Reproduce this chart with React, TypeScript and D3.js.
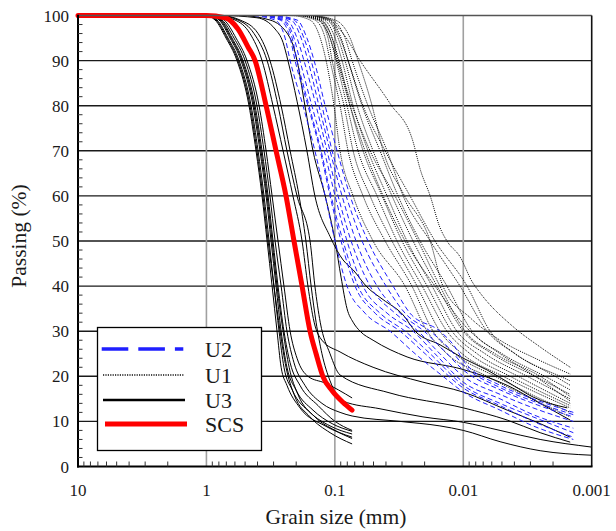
import React from "react";
import * as d3 from "d3";

type Pt = [number, number];

// Grain size axis (mm), reversed log scale
const xTicks = [10, 1, 0.1, 0.01, 0.001];
const xTickLabels = ["10", "1", "0.1", "0.01", "0.001"];
const yTicks = [0, 10, 20, 30, 40, 50, 60, 70, 80, 90, 100];
const legendLabels = ["U2", "U1", "U3", "SCS"];

// SCS (red thick)
const SCS: Pt[] = [[10,100],[1.0,100],[0.716,99.5],[0.568,97],[0.474,93],[0.418,90],[0.343,80],[0.287,70],[0.240,60],[0.208,50],[0.180,40],[0.156,30],[0.140,25],[0.124,20],[0.105,16.8],[0.087,14.3],[0.0735,12.5]];

// U3 (black solid)
const U3a: Pt[] = [[10,100],[1.025,100],[0.857,99],[0.704,95],[0.578,90],[0.466,80],[0.411,70],[0.369,60],[0.337,50],[0.308,40],[0.282,30],[0.262,22],[0.236,18],[0.187,13],[0.119,9],[0.0734,6.5]];
const U3b: Pt[] = [[10,100],[0.989,100],[0.827,99],[0.679,95],[0.557,90],[0.449,80],[0.396,70],[0.356,60],[0.325,50],[0.298,40],[0.272,30],[0.249,22],[0.215,17],[0.156,12],[0.109,9],[0.0734,7.2]];
const U3c: Pt[] = [[10,100],[0.971,100],[0.798,99],[0.655,95],[0.538,90],[0.434,80],[0.383,70],[0.343,60],[0.314,50],[0.287,40],[0.262,30],[0.236,22],[0.201,17],[0.148,12.5],[0.105,9.5],[0.0734,7.8]];
const U3d: Pt[] = [[10,100],[0.938,100],[0.770,99],[0.632,95],[0.519,90],[0.418,80],[0.369,70],[0.331,60],[0.303,50],[0.277,40],[0.249,30],[0.223,23],[0.187,18],[0.135,13.5],[0.0996,10],[0.0734,8]];
const U3e: Pt[] = [[10,100],[0.938,100],[0.756,99],[0.610,95],[0.500,90],[0.404,80],[0.356,70],[0.320,60],[0.292,50],[0.262,40],[0.236,30],[0.208,23],[0.171,18],[0.126,14],[0.0911,12],[0.0734,11.2],[0.0311,10],[0.0152,9],[0.01,8],[0.00517,5.5],[0.00252,3.5],[0.001,2.5]];
const U3f: Pt[] = [[10,100],[0.905,100],[0.729,99],[0.588,95],[0.483,90],[0.389,80],[0.343,70],[0.308,60],[0.277,50],[0.249,40],[0.223,30],[0.197,24],[0.162,20],[0.119,18.5],[0.0734,15.2]];
const U3g: Pt[] = [[10,100],[1.007,100],[0.842,99],[0.691,95],[0.568,90],[0.458,80],[0.404,70],[0.363,60],[0.331,50],[0.298,40],[0.267,30],[0.240,22],[0.208,16],[0.156,11],[0.109,7.5],[0.0734,5]];
const U3h: Pt[] = [[10,100],[0.955,100],[0.784,99],[0.643,95],[0.528,90],[0.426,80],[0.376,70],[0.337,60],[0.308,50],[0.282,40],[0.253,30],[0.227,22],[0.194,16],[0.143,11],[0.0996,8],[0.0734,6.2]];
const U3i: Pt[] = [[10,100],[0.857,100],[0.599,99],[0.458,96],[0.369,90],[0.303,80],[0.253,70],[0.212,60],[0.180,50],[0.162,40],[0.145,32],[0.126,28],[0.0911,25.4],[0.0504,22],[0.0206,18.7],[0.01,16.5],[0.00455,12.5],[0.00252,9.5],[0.00147,6.5]];
const U3j: Pt[] = [[10,100],[0.812,100],[0.568,99],[0.426,96],[0.337,90],[0.277,80],[0.236,70],[0.197,60],[0.156,50],[0.143,40],[0.130,32],[0.109,25],[0.0911,20.3],[0.0372,16.3],[0.01,13],[0.00455,10.3],[0.00252,7.5],[0.00147,5.4]];
const U3k: Pt[] = [[10,100],[0.784,100],[0.547,99],[0.396,96],[0.320,90],[0.262,80],[0.223,70],[0.190,60],[0.168,50],[0.153,40],[0.140,32],[0.126,25],[0.109,19],[0.0863,14.5],[0.0445,12.8],[0.0206,11],[0.01,9.8],[0.00517,8],[0.00252,6],[0.001,4.3]];
const U3l: Pt[] = [[10,100],[0.547,100],[0.320,99],[0.223,95],[0.197,90],[0.171,80],[0.148,70],[0.119,60],[0.0996,50],[0.0895,42],[0.0804,35],[0.0721,32],[0.0636,30],[0.0504,28],[0.0274,24.3],[0.01,21.5],[0.00455,18],[0.00252,14],[0.00147,10.3]];
const U3m: Pt[] = [[10,100],[0.784,100],[0.404,99.5],[0.292,97],[0.253,94],[0.232,90],[0.197,81],[0.165,70],[0.143,60],[0.109,51],[0.0863,45.8],[0.0721,43.6],[0.0562,39.8],[0.0421,37],[0.0294,33.6],[0.0237,30],[0.0152,27],[0.01,24],[0.00652,21.4],[0.00409,18],[0.00286,15.4],[0.00155,13]];
const U3: Pt[][] = [U3a, U3b, U3c, U3d, U3e, U3f, U3g, U3h, U3i, U3j, U3k, U3l, U3m];

// U2 (blue dashed)
const B1: Pt[] = [[10,100],[0.458,100],[0.292,99],[0.244,95],[0.223,90],[0.177,80],[0.143,70],[0.119,60],[0.0996,50],[0.0804,40],[0.0582,34],[0.0372,30],[0.0237,25],[0.0144,20],[0.01,16.5],[0.00517,12.5],[0.00286,9],[0.00139,6]];
const B2: Pt[] = [[10,100],[0.418,100],[0.267,99],[0.223,95],[0.204,90],[0.162,80],[0.130,70],[0.109,60],[0.0895,50],[0.0696,40],[0.0486,34],[0.0311,30],[0.0198,25],[0.01,17.4],[0.00517,13.5],[0.00286,10],[0.00139,6.5]];
const B3: Pt[] = [[10,100],[0.396,100],[0.258,99],[0.215,95],[0.197,90],[0.159,80],[0.128,70],[0.107,60],[0.0863,50],[0.066,40],[0.0445,34],[0.0284,30],[0.0181,25],[0.01,18],[0.00517,14],[0.00286,11],[0.00139,7.5]];
const B4: Pt[] = [[10,100],[0.383,100],[0.249,99],[0.208,95],[0.187,90],[0.151,80],[0.121,70],[0.0996,60],[0.0804,50],[0.0603,40],[0.0392,34],[0.0246,30],[0.0166,25],[0.01,18.7],[0.00517,15],[0.00286,11.5],[0.00139,8.5]];
const B5: Pt[] = [[10,100],[0.363,100],[0.236,99],[0.197,95],[0.174,90],[0.140,80],[0.115,70],[0.0944,60],[0.0747,50],[0.0532,40],[0.034,34],[0.0225,30],[0.0152,25],[0.01,20],[0.00517,16],[0.00286,13],[0.00139,10]];
const B6: Pt[] = [[10,100],[0.343,100],[0.219,99],[0.183,95],[0.162,90],[0.133,80],[0.109,70],[0.0879,60],[0.0684,50],[0.0469,40],[0.0311,34],[0.0202,30],[0.0139,25.5],[0.01,21.4],[0.00517,17],[0.00286,14],[0.00139,11]];
const B7: Pt[] = [[10,100],[0.326,100],[0.208,99],[0.174,95],[0.153,90],[0.126,80],[0.105,70],[0.0818,60],[0.0614,50],[0.0399,40],[0.0284,34],[0.0181,30],[0.0127,26],[0.01,22.5],[0.00517,17.5],[0.00286,14.5],[0.00139,11.5]];
const B8: Pt[] = [[10,100],[0.308,100],[0.197,99],[0.165,95],[0.145,90],[0.119,80],[0.0961,70],[0.0761,60],[0.0552,50],[0.0352,40],[0.026,34],[0.0152,30],[0.0116,26.5],[0.01,23.5],[0.00517,18],[0.00286,15],[0.00139,12]];
const U2: Pt[][] = [B1, B2, B3, B4, B5, B6, B7, B8];

// U1 (black dotted)
const D1: Pt[] = [[10,100],[0.223,100],[0.156,99],[0.130,95],[0.117,90],[0.1015,80],[0.0911,70],[0.0721,60],[0.0504,50],[0.0284,40],[0.0191,30],[0.0134,25],[0.00652,20],[0.00147,11]];
const D2: Pt[] = [[10,100],[0.204,100],[0.143,99],[0.119,95],[0.109,90],[0.0911,80],[0.0789,70],[0.0603,60],[0.0406,50],[0.0251,40],[0.0172,30],[0.0116,25],[0.00565,20],[0.00147,12]];
const D3: Pt[] = [[10,100],[0.194,100],[0.135,99],[0.113,95],[0.105,90],[0.0848,80],[0.0721,70],[0.0532,60],[0.0359,50],[0.0229,40],[0.0152,30],[0.0102,25],[0.0049,20],[0.00147,13]];
const D4: Pt[] = [[10,100],[0.187,100],[0.130,99],[0.109,95],[0.0978,90],[0.0804,80],[0.066,70],[0.0469,60],[0.0328,50],[0.0209,40],[0.0134,30],[0.00885,25],[0.00432,20],[0.00147,13.5]];
const D5: Pt[] = [[10,100],[0.187,100],[0.126,99],[0.105,95],[0.0927,90],[0.0761,80],[0.0603,70],[0.0429,60],[0.030,50],[0.0191,40],[0.01225,30],[0.0078,25],[0.00374,20],[0.00147,14]];
const D6: Pt[] = [[10,100],[0.180,100],[0.121,99],[0.0996,95],[0.0879,90],[0.0721,80],[0.0552,70],[0.0392,60],[0.0274,50],[0.0175,40],[0.0112,30],[0.00676,25],[0.00318,20],[0.00147,15]];
const D7: Pt[] = [[10,100],[0.171,100],[0.115,99],[0.0944,95],[0.0833,90],[0.0671,80],[0.0504,70],[0.0359,60],[0.0246,50],[0.016,40],[0.01,30],[0.00596,25],[0.00276,20],[0.00147,16]];
const D8: Pt[] = [[10,100],[0.165,100],[0.109,99],[0.0895,95],[0.0789,90],[0.0614,80],[0.0445,70],[0.0322,60],[0.0217,50],[0.0134,40],[0.00854,30],[0.00499,25],[0.00231,20],[0.00147,17]];
const D9: Pt[] = [[10,100],[0.156,100],[0.105,99],[0.0833,95],[0.0734,90],[0.0552,80],[0.0392,70],[0.0294,60],[0.0181,50],[0.0106,40],[0.00652,30],[0.00395,25],[0.00193,20],[0.00147,18]];
const D10: Pt[] = [[10,100],[0.156,100],[0.0996,99],[0.0761,95],[0.066,90],[0.0513,80],[0.0421,70],[0.0294,60.6],[0.0181,50],[0.0144,40],[0.00885,33],[0.00517,28],[0.00276,24],[0.00147,20.5]];
const D11: Pt[] = [[10,100],[0.187,100],[0.119,99.5],[0.0863,96],[0.0636,90],[0.0372,80.5],[0.0246,72],[0.0217,66],[0.0181,60],[0.0152,53],[0.0134,50],[0.0106,46.5],[0.00854,41],[0.0074,38.5],[0.00409,31],[0.00252,26.5],[0.00147,22]];
const D12: Pt[] = [[10,100],[0.171,100],[0.113,99],[0.0911,95],[0.0789,90],[0.0603,80],[0.0406,70],[0.026,60],[0.0166,50],[0.00934,40],[0.00618,30],[0.00395,25],[0.00176,20],[0.00147,19]];
const D13: Pt[] = [[10,100],[0.187,100],[0.130,99],[0.105,95],[0.0944,90],[0.0734,80],[0.0532,70],[0.034,60],[0.0225,50],[0.0152,40],[0.00968,30],[0.00565,25],[0.00252,20],[0.00147,15.5]];
const D14: Pt[] = [[10,100],[0.197,100],[0.135,99],[0.109,95],[0.0961,90],[0.0761,80],[0.0582,70],[0.0421,60],[0.0284,50],[0.0166,40],[0.00885,30],[0.00517,25],[0.00276,20],[0.00147,14.5]];
const U1: Pt[][] = [D1, D2, D3, D4, D5, D6, D7, D8, D9, D10, D11, D12, D13, D14];

const FONT = "Liberation Serif, Times New Roman, DejaVu Serif, serif";

export default function App() {
  const W = 616, H = 531;
  const x0 = 78, x1 = 591.7, yTop = 15.5, yBot = 466.5;
  const x = d3.scaleLog().domain([10, 0.001]).range([x0, x1]);
  const y = d3.scaleLinear().domain([0, 100]).range([yBot, yTop]);
  const line = d3.line<Pt>().x(d => x(d[0])).y(d => y(d[1])).curve(d3.curveMonotoneX);

  // minor ticks 2..9 within each decade
  const minorTicks: number[] = [];
  [1, 0.1, 0.01, 0.001].forEach(base => {
    for (let m = 2; m <= 9; m++) minorTicks.push(base * m);
  });
  const minorY = d3.range(0, 101, 2).filter(v => v % 10 !== 0);

  const legendY = [349, 375, 400, 424];
  const ts = { fontFamily: FONT };

  return (
    <svg width={W} height={H} style={{ position: "absolute", left: 0, top: 0, background: "#fff", fontFamily: FONT }}>
      <rect x={0} y={0} width={W} height={H} fill="#fff" />
      {/* horizontal grid */}
      {yTicks.filter(v => v > 0 && v < 100).map(v => (
        <line key={"hg" + v} x1={x0} x2={x1} y1={y(v)} y2={y(v)} stroke="#1a1a1a" strokeWidth={1.4} />
      ))}
      {/* vertical grid */}
      {xTicks.slice(1, 4).map(v => (
        <line key={"vg" + v} x1={x(v)} x2={x(v)} y1={yTop} y2={yBot} stroke="#a0a0a0" strokeWidth={1.6} />
      ))}
      {/* U1 dotted */}
      {U1.map((c, i) => (
        <path key={"u1" + i} d={line(c) || ""} fill="none" stroke="#000" strokeWidth={1} strokeDasharray="1,1.1" />
      ))}
      {/* U3 solid */}
      {U3.map((c, i) => (
        <path key={"u3" + i} d={line(c) || ""} fill="none" stroke="#000" strokeWidth={1} />
      ))}
      {/* U2 dashed */}
      {U2.map((c, i) => (
        <path key={"u2" + i} d={line(c) || ""} fill="none" stroke="#1f1fff" strokeWidth={1} strokeDasharray="5,3" />
      ))}
      {/* SCS */}
      <path d={line(SCS) || ""} fill="none" stroke="#ff0000" strokeWidth={5} strokeLinecap="round" />

      {/* frame */}
      <line x1={x0} x2={x1} y1={yTop} y2={yTop} stroke="#555" strokeWidth={1.6} />
      <line x1={x1} x2={x1} y1={yTop} y2={yBot} stroke="#111" strokeWidth={1.6} />
      <line x1={x0} x2={x0} y1={yTop - 0.8} y2={yBot + 1} stroke="#000" strokeWidth={2} />
      <line x1={x0 - 1} x2={x1 + 0.8} y1={yBot} y2={yBot} stroke="#000" strokeWidth={2} />

      {/* minor ticks */}
      {minorTicks.map((v, i) => (
        <line key={"mx" + i} x1={x(v)} x2={x(v)} y1={yBot} y2={yBot - 5} stroke="#333" strokeWidth={1} />
      ))}
      {minorY.map(v => (
        <line key={"my" + v} x1={x0} x2={x0 + 4.5} y1={y(v)} y2={y(v)} stroke="#333" strokeWidth={1} />
      ))}

      {/* tick labels */}
      {yTicks.map(v => (
        <text key={"yl" + v} x={69} y={y(v) + 6} textAnchor="end" fontSize={17} fill="#1a1a1a" style={ts}>{v}</text>
      ))}
      {xTicks.map((v, i) => (
        <text key={"xl" + i} x={x(v)} y={496} textAnchor="middle" fontSize={17} fill="#1a1a1a" style={ts}>{xTickLabels[i]}</text>
      ))}

      {/* axis titles */}
      <text x={336} y={524} textAnchor="middle" fontSize={21.5} fill="#1a1a1a" style={ts}>Grain size (mm)</text>
      <text transform="translate(25.5,236) rotate(-90)" textAnchor="middle" fontSize={21.5} fill="#1a1a1a" style={ts}>Passing (%)</text>

      {/* legend */}
      <rect x={97.5} y={327.5} width={164} height={123} fill="#fff" stroke="#000" strokeWidth={1.3} />
      <line x1={101.7} x2={183.3} y1={legendY[0]} y2={legendY[0]} stroke="#1f1fff" strokeWidth={3.3} strokeDasharray="26.6,10" />
      <line x1={103} x2={184} y1={legendY[1]} y2={legendY[1]} stroke="#111" strokeWidth={1.4} strokeDasharray="1.2,1.2" />
      <line x1={103} x2={185} y1={legendY[2]} y2={legendY[2]} stroke="#000" strokeWidth={2.5} />
      <line x1={105} x2={187} y1={legendY[3]} y2={legendY[3]} stroke="#ff0000" strokeWidth={5} />
      {legendLabels.map((t, i) => (
        <text key={"lg" + t} x={205} y={legendY[i] + 7.5} fontSize={22} fill="#1a1a1a" style={ts}>{t}</text>
      ))}
    </svg>
  );
}
